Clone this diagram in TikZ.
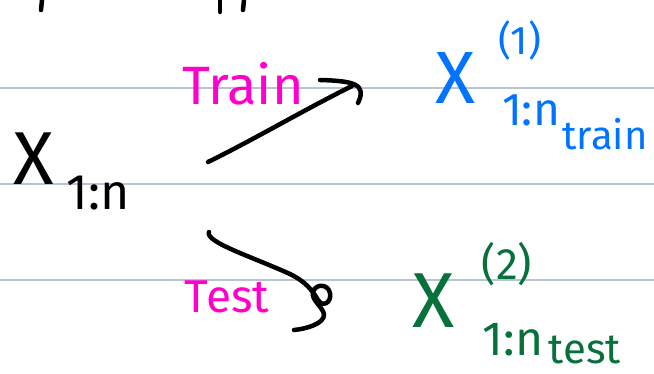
\documentclass[tikz,border=0pt]{standalone}
\usepackage{fontspec}
\setmainfont{Fira Sans}
\usetikzlibrary{calc}
\definecolor{pink}{HTML}{FF00CC}
\definecolor{azure}{HTML}{0073FF}
\definecolor{forest}{HTML}{08703A}
\definecolor{ruling}{HTML}{B8C4D4}
\tikzset{
  hand/.style={inner sep=0pt, font=\fontsize{#1}{#1}\selectfont},
  pen/.style={line width=4.5pt, line cap=round, line join=round, draw=black},
  rule/.style={draw=ruling, line width=1.6pt}
}
\begin{document}
\begin{tikzpicture}[x=1pt, y=-1pt]
  \useasboundingbox (0,0) rectangle (654,374);
  % ruled paper
  \foreach \y in {88,184,280}
    \draw[rule] (0,\y) -- (654,\y);
  % strokes cut off at the top edge
  \draw[pen] (42,0) -- (41,10);
  \draw[pen] (220,0) -- (220,12);
  \draw[pen] (244,0) -- (243,10);

  \node[hand=75] (x) at (34,159) {X};
  \node[hand=50] (xsub) at (98,193) {1:n};

  \node[hand=54, text=pink] (train) at (243,84) {Train};
  \node[hand=46, text=pink] (test) at (227,297) {Test};

  \node[hand=74, text=azure] (xtrain) at (455,78) {X};
  \node[hand=40, text=azure] (xtrainsup) at (520,41) {(1)};
  \node[hand=46, text=azure] (xtrainsub) at (531,110) {1:n};
  \node[hand=40, text=azure] (ntrain) at (605,134) {train};

  \node[hand=78, text=forest] (xtest) at (434,301) {X};
  \node[hand=44, text=forest] (xtestsup) at (507,264) {(2)};
  \node[hand=48, text=forest] (xtestsub) at (513,340) {1:n};
  \node[hand=42, text=forest] (ntest) at (585,350) {test};

  \coordinate (traintail) at (208,162);
  \coordinate (traintip) at (352,86);
  \coordinate (testtail) at (209,232);
  \coordinate (testend) at (294,330);

  \draw[pen] (traintail) .. controls +(45,-22) and +(-50,25) .. (traintip);
  \draw[pen] ($(traintip)+(-32,-6)$)
    .. controls ($(traintip)+(2,-5)$) and ($(traintip)+(15,-2)$)
    .. ($(traintip)+(6,17)$);
  \draw[pen] (testtail) .. controls (205,242) and (250,256) .. (290,274)
    .. controls (306,282) and (312,290) .. (318,300)
    .. controls (323,308) and (332,302) .. (330,293)
    .. controls (328,284) and (316,283) .. (313,292)
    .. controls (311,300) and (322,306) .. (324,314)
    .. controls (325,324) and (305,329) .. (testend);
\end{tikzpicture}
\end{document}
